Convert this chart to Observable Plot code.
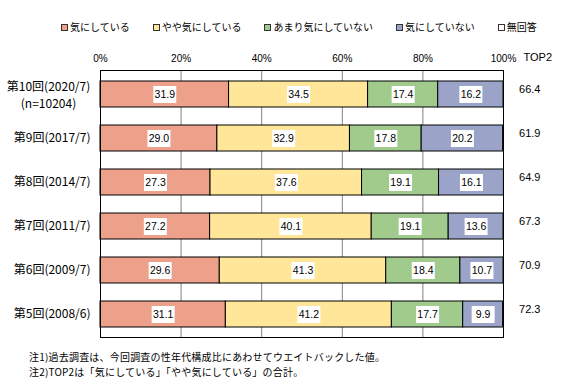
<!DOCTYPE html>
<html><head><meta charset="utf-8">
<script src="https://cdn.jsdelivr.net/npm/d3@7"></script>
<script src="https://cdn.jsdelivr.net/npm/@observablehq/plot@0.6"></script>
<style>
body{margin:0;background:#fff;}
#wrap{position:relative;width:571px;height:391px;font-family:"Noto Sans CJK JP",sans-serif;color:#000;overflow:hidden;}
#chart{position:absolute;left:0;top:0;}
#legend{position:absolute;left:61px;top:20px;display:flex;gap:23px;font-size:10px;line-height:14px;white-space:nowrap;}
#legend .item{display:flex;align-items:center;}
#legend .sw{width:5px;height:5px;border:1px solid #333;margin-right:2px;}
#notes{position:absolute;left:29px;top:349px;font-size:10px;line-height:15px;white-space:nowrap;letter-spacing:0.2px;}
</style></head><body>
<div id="wrap"><div id="chart"></div><div id="legend"></div><div id="notes"></div></div>
<script>
const rounds = ["第10回(2020/7)","第9回(2017/7)","第8回(2014/7)","第7回(2011/7)","第6回(2009/7)","第5回(2008/6)"];
const sampleSize = "(n=10204)";
const series = ["気にしている","やや気にしている","あまり気にしていない","気にしていない","無回答"];
const concerned    = [31.9, 29.0, 27.3, 27.2, 29.6, 31.1];
const somewhat     = [34.5, 32.9, 37.6, 40.1, 41.3, 41.2];
const notMuch      = [17.4, 17.8, 19.1, 19.1, 18.4, 17.7];
const notConcerned = [16.2, 20.2, 16.1, 13.6, 10.7, 9.9];
const noAnswer     = [0, 0, 0, 0, 0, 0];
const top2 = [66.4, 61.9, 64.9, 67.3, 70.9, 72.3];
const xTicks = [0, 20, 40, 60, 80, 100];
const gridTicks = [20, 40, 60, 80];
const colors = ["#EDA08A", "#FFE699", "#A0CB8C", "#9BA3C9", "#FFFFFF"];
const notes = ["注1)過去調査は、今回調査の性年代構成比にあわせてウエイトバックした値。", "注2)TOP2は「気にしている」「やや気にしている」の合計。"];

const seriesValues = [concerned, somewhat, notMuch, notConcerned, noAnswer];
const table = rounds.flatMap((r, i) => series.map((s, j) => ({round: r, series: s, value: seriesValues[j][i]})));
const shown = d => d.value > 0;

const boxSymbol = {draw(ctx) { ctx.rect(-11.5, -8.5, 23, 17); }};
const numFont = "'Liberation Sans',sans-serif";

const chart = Plot.plot({
  width: 571, height: 391,
  marginTop: 70, marginBottom: 54, marginLeft: 100, marginRight: 68,
  style: {fontFamily: "'Noto Sans CJK JP',sans-serif", background: "white"},
  x: {domain: [0, 100], axis: null, label: null},
  y: {domain: rounds, paddingInner: 0.42, paddingOuter: 0.21, axis: null},
  color: {domain: series, range: colors},
  marks: [
    Plot.gridX(gridTicks, {stroke: "#808080", strokeOpacity: 1}),
    Plot.barX(table, Plot.stackX({filter: shown, x: "value", y: "round", fill: "series", order: series, stroke: "black", strokeWidth: 1})),
    Plot.dot(table, Plot.stackX({filter: shown, x: "value", y: "round", z: "series", order: series, symbol: boxSymbol, fill: "white", stroke: "none"})),
    Plot.text(table, Plot.stackX({filter: shown, x: "value", y: "round", z: "series", order: series, text: d => d.value.toFixed(1), fontSize: 10.5, fill: "black", fontFamily: numFont})),
    Plot.frame({stroke: "black", strokeWidth: 1}),
    Plot.axisX(xTicks, {anchor: "top", label: null, tickSize: 0, tickPadding: 9, tickFormat: d => d + "%", fontSize: 10, fontFamily: numFont}),
    Plot.text(rounds.slice(1), {y: d => d, text: d => d, frameAnchor: "left", textAnchor: "end", dx: -10, fontSize: 12}),
    Plot.text(rounds.slice(0, 1), {y: d => d, text: d => d + "\n" + sampleSize, frameAnchor: "left", textAnchor: "middle", dx: -52, lineHeight: 1.4, fontSize: 12}),
    Plot.text(rounds, {y: d => d, text: (d, i) => top2[i].toFixed(1), frameAnchor: "right", dx: 37, dy: -5, fontSize: 11, fontFamily: numFont}),
    Plot.text(["TOP2"], {text: d => d, frameAnchor: "top-right", textAnchor: "start", dx: 20, dy: -17, fontSize: 11, fontFamily: numFont})
  ]
});
document.getElementById("chart").appendChild(chart);

const legend = document.getElementById("legend");
series.forEach((s, j) => {
  const item = document.createElement("div");
  item.className = "item";
  const sw = document.createElement("span");
  sw.className = "sw";
  sw.style.background = colors[j];
  const t = document.createElement("span");
  t.textContent = s;
  item.appendChild(sw); item.appendChild(t);
  legend.appendChild(item);
});
document.getElementById("notes").innerHTML = notes.map(n => "<div>" + n + "</div>").join("");
</script>
</body></html>
